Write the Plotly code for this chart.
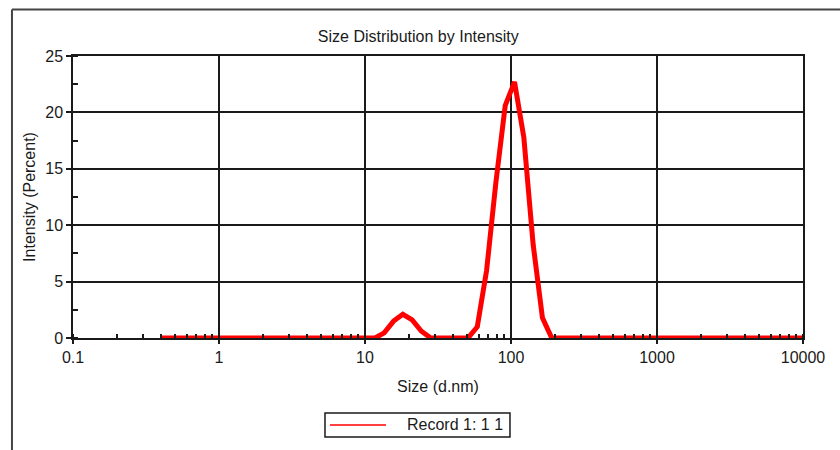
import plotly.graph_objects as go

# Size bins (d.nm) of the distribution
size_nm = [
    0.4, 0.4632, 0.5365, 0.6213, 0.7195, 0.8332, 0.9649, 1.117, 1.294, 1.499,
    1.736, 2.01, 2.328, 2.696, 3.122, 3.615, 4.187, 4.849, 5.615, 6.503,
    7.531, 8.721, 10.1, 11.7, 13.54, 15.69, 18.17, 21.04, 24.36, 28.21,
    32.67, 37.84, 43.82, 50.75, 58.77, 68.06, 78.82, 91.28, 105.7, 122.4,
    141.8, 164.2, 190.1, 220.2, 255.0, 295.3, 342.0, 396.1, 458.7, 531.2,
    615.1, 712.4, 825.0, 955.4, 1106, 1281, 1484, 1718, 1990, 2305,
    2669, 3091, 3580, 4145, 4801, 5560, 6439, 7456, 8635, 10000,
]

# Intensity (percent) for Record 1
intensity_pct = [
    0, 0, 0, 0, 0, 0, 0, 0, 0, 0,
    0, 0, 0, 0, 0, 0, 0, 0, 0, 0,
    0, 0, 0, 0, 0.45, 1.5, 2.1, 1.6, 0.6, 0,
    0, 0, 0, 0, 1.0, 6.0, 13.8, 20.6, 22.7, 17.8,
    8.3, 1.8, 0, 0, 0, 0, 0, 0, 0, 0,
    0, 0, 0, 0, 0, 0, 0, 0, 0, 0,
    0, 0, 0, 0, 0, 0, 0, 0, 0, 0,
]

x_tick_vals = [0.1, 1, 10, 100, 1000, 10000]
x_tick_text = ["0.1", "1", "10", "100", "1000", "10000"]
y_tick_vals = [0, 5, 10, 15, 20, 25]

record_name = "Record 1: 1 1"
RED = "#ff0000"
INK = "#1a1a1a"
FONT = "Liberation Sans, Arial, sans-serif"

fig = go.Figure()

fig.add_trace(go.Scatter(
    x=size_nm, y=intensity_pct, mode="lines", name=record_name,
    line=dict(color=RED, width=5),
    showlegend=False, hoverinfo="x+y",
))

fig.update_layout(
    width=840, height=450,
    margin=dict(l=73, r=37, t=56, b=112, autoexpand=False),
    paper_bgcolor="white", plot_bgcolor="white",
    font=dict(family=FONT, size=16, color=INK),
    title=dict(text="Size Distribution by Intensity", x=0.498, xanchor="center",
               y=0.92, yanchor="middle", font=dict(size=16, color=INK)),
    showlegend=False,
)

fig.update_xaxes(
    type="log", range=[-1, 4],
    tickvals=x_tick_vals, ticktext=x_tick_text,
    ticks="outside", ticklen=4, tickcolor=INK, tickwidth=1.5,
    showgrid=True, gridcolor=INK, gridwidth=1.5,
    showline=True, linecolor=INK, linewidth=1.5, mirror=True,
    minor=dict(ticks="inside", ticklen=4, tickcolor=INK, tickwidth=1.5,
               dtick="D1", showgrid=False),
    title=dict(text="Size (d.nm)", standoff=16, font=dict(size=16, color=INK)),
    tickfont=dict(size=16, color=INK),
    zeroline=False,
)

fig.update_yaxes(
    range=[0, 25],
    tickvals=y_tick_vals,
    ticks="outside", ticklen=5, tickcolor=INK, tickwidth=1.5,
    showgrid=True, gridcolor=INK, gridwidth=1.5,
    showline=True, linecolor=INK, linewidth=1.5, mirror=True,
    minor=dict(ticks="inside", ticklen=5, tickcolor=INK, tickwidth=1.5,
               dtick=2.5, showgrid=False),
    title=dict(text="Intensity (Percent)", standoff=6, font=dict(size=16, color=INK)),
    tickfont=dict(size=16, color=INK),
    zeroline=False,
)

# outer frame around the report panel
frame = dict(type="line", xref="paper", yref="paper",
             line=dict(color="#444444", width=2))
fig.add_shape(**frame, x0=-0.0836, y0=1.1645, x1=1.06, y1=1.1645)
fig.add_shape(**frame, x0=-0.0836, y0=1.1645, x1=-0.0836, y1=-0.42)

# legend box below the axis: border, line sample and record name
fig.add_shape(type="rect", xref="paper", yref="paper",
              x0=0.3452, x1=0.5986, y0=-0.351, y1=-0.266,
              line=dict(color=INK, width=1.5), fillcolor="white")
fig.add_shape(type="line", xref="paper", yref="paper",
              x0=0.352, x1=0.4288, y0=-0.3085, y1=-0.3085,
              line=dict(color=RED, width=1.5))
fig.add_annotation(xref="paper", yref="paper", x=0.4548, y=-0.3085,
                   xanchor="left", yanchor="middle", showarrow=False,
                   text=record_name, font=dict(size=16, color=INK))

fig.write_html("out.html")
